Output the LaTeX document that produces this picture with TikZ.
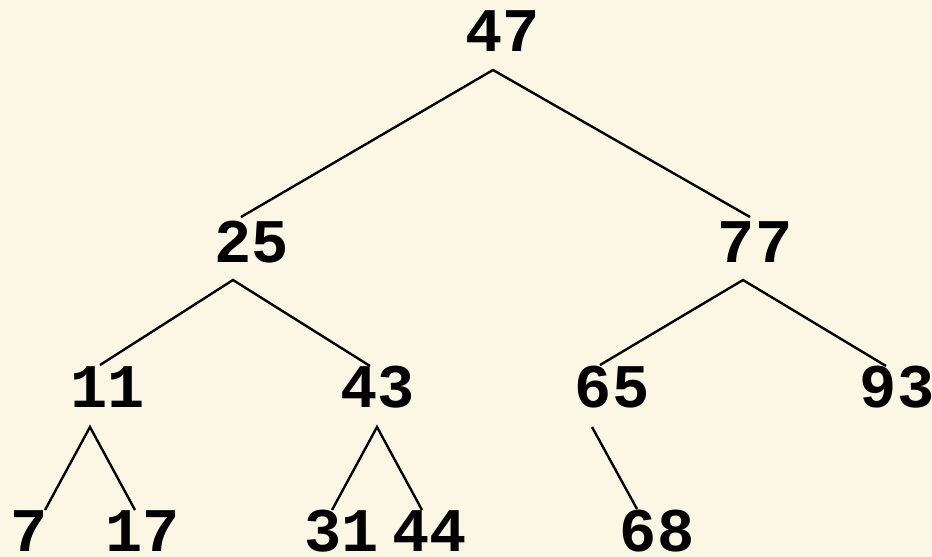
\documentclass[tikz,border=0pt]{standalone}
\usepackage{fontspec}
\newfontfamily\treefont{Liberation Mono}[BoldFont={Liberation Mono Bold}]
\definecolor{bg}{RGB}{252,246,228}
\begin{document}
\begin{tikzpicture}[x=1pt,y=-1pt,
  num/.style={inner sep=0pt, font=\treefont\bfseries\fontsize{62}{62}\selectfont},
  edge/.style={line width=2.4pt, line cap=butt}]
\fill[bg] (0,0) rectangle (932,557);
\useasboundingbox (0,0) rectangle (932,557);
% numbers
\node[num] (n47) at (503,31) {47};
\node[num] (n25) at (252,242) {25};
\node[num] (n77) at (755,242) {77};
\node[num] (n11) at (108,387) {11};
\node[num] (n43) at (378,387) {43};
\node[num] (n65) at (612,387) {65};
\node[num] (n93) at (897,387) {93};
\node[num] (n7) at (29,531) {7};
\node[num] (n17) at (143,531) {17};
\node[num] (n31) at (342,531) {31};
\node[num] (n44) at (430,531) {44};
\node[num] (n68) at (657,531) {68};
% connector ends
\coordinate (a47) at (493,70);
\coordinate (e25) at (241,217);
\coordinate (e77) at (750,217);
\coordinate (a25) at (233,280);
\coordinate (e11) at (100,365);
\coordinate (e43) at (370,366);
\coordinate (a77) at (743,280);
\coordinate (e65) at (600,365);
\coordinate (e93) at (886,366);
\coordinate (a11) at (90,427);
\coordinate (e7) at (45,510);
\coordinate (e17) at (135,510);
\coordinate (a43) at (377,427);
\coordinate (e31) at (332,510);
\coordinate (e44) at (422,510);
\coordinate (a65) at (592,427);
\coordinate (e68) at (637,509);
% connectors
\draw[edge] (e25) -- (a47) -- (e77);
\draw[edge] (e11) -- (a25) -- (e43);
\draw[edge] (e65) -- (a77) -- (e93);
\draw[edge] (e7) -- (a11) -- (e17);
\draw[edge] (e31) -- (a43) -- (e44);
\draw[edge] (a65) -- (e68);
\end{tikzpicture}
\end{document}
